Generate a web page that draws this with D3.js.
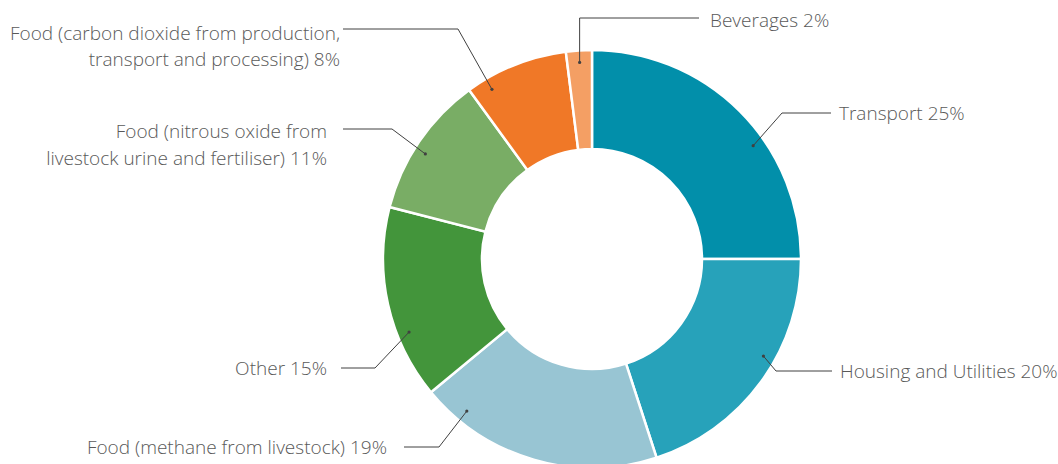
<!DOCTYPE html>
<html>
<head>
<meta charset="utf-8">
<script src="https://cdn.jsdelivr.net/npm/d3@7"></script>
<style>
  body { margin: 0; background: #fff; }
  svg text { font-family: "Open Sans", sans-serif; font-size: 19px; font-weight: 300; fill: #595959; }
</style>
</head>
<body>
<div id="chart"></div>
<script>
// DATA (clockwise from 12 o'clock)
const categories = [
  ["Transport"],
  ["Housing and Utilities"],
  ["Food (methane from livestock)"],
  ["Other"],
  ["Food (nitrous oxide from", "livestock urine and fertiliser)"],
  ["Food (carbon dioxide from production,", "transport and processing)"],
  ["Beverages"]
];
const shares = [25, 20, 19, 15, 11, 8, 2];
const colors = ["#028FAA", "#27A2BA", "#98C5D3", "#43953B", "#79AD65", "#F07827", "#F49F64"];

// label layout: where the dot sits inside the slice (fraction of the slice),
// the elbow of the leader, end of the horizontal run and the text anchor
const layout = [
  { t: 0.61, elbow: [782, 113], end: 831, tx: 839, ty: 113, side: "right" },
  { t: 0.41, elbow: [776, 371], end: 832, tx: 840, ty: 371, side: "right" },
  { t: 0.84, elbow: [439, 447], end: 404, tx: 387, ty: 447, side: "left" },
  { t: 0.33, elbow: [375, 368], end: 341, tx: 327, ty: 368, side: "left" },
  { t: 0.45, elbow: [392, 129], end: 343, tx: 327, ty: 131.5, side: "left" },
  { t: 0.19, elbow: [458, 29], end: 343, tx: 340, ty: 33, side: "left" },
  { t: 0.5, elbow: [580, 18], end: 699, tx: 710, ty: 20, side: "right" }
];

const width = 1058, height = 464;
const cx = 592, cy = 259;
const outerR = 209, innerR = 110, dotR = 197;

const svg = d3.select("#chart")
  .append("svg")
  .attr("width", width)
  .attr("height", height);

const pie = d3.pie().sort(null).value(d => d)(shares);
const arc = d3.arc().innerRadius(innerR).outerRadius(outerR);

const g = svg.append("g").attr("transform", `translate(${cx},${cy})`);

g.selectAll("path")
  .data(pie)
  .enter().append("path")
  .attr("d", arc)
  .attr("fill", (d, i) => colors[i])
  .attr("stroke", "#fff")
  .attr("stroke-width", 2.5);

// leader lines
pie.forEach((d, i) => {
  const L = layout[i];
  const a = d.startAngle + (d.endAngle - d.startAngle) * L.t;
  const px = cx + dotR * Math.sin(a);
  const py = cy - dotR * Math.cos(a);
  // the beverages leader goes straight up from its dot
  const ex = i === 6 ? px : L.elbow[0];

  svg.append("polyline")
    .attr("points", [[px, py], [ex, L.elbow[1]], [L.end, L.elbow[1]]].map(p => p.join(",")).join(" "))
    .attr("fill", "none")
    .attr("stroke", "#404040")
    .attr("stroke-width", 1);

  svg.append("circle")
    .attr("cx", px).attr("cy", py).attr("r", 1.6)
    .attr("fill", "#404040");

  const lines = categories[i].slice();
  lines[lines.length - 1] = lines[lines.length - 1] + " " + shares[i] + "%";

  const text = svg.append("text")
    .attr("x", L.tx)
    .attr("y", L.ty)
    .attr("text-anchor", L.side === "right" ? "start" : "end");
  lines.forEach((s, k) => {
    text.append("tspan")
      .attr("x", L.tx)
      .attr("dy", k === 0 ? "0.35em" : "26.5px")
      .text(s);
  });
});
</script>
</body>
</html>
